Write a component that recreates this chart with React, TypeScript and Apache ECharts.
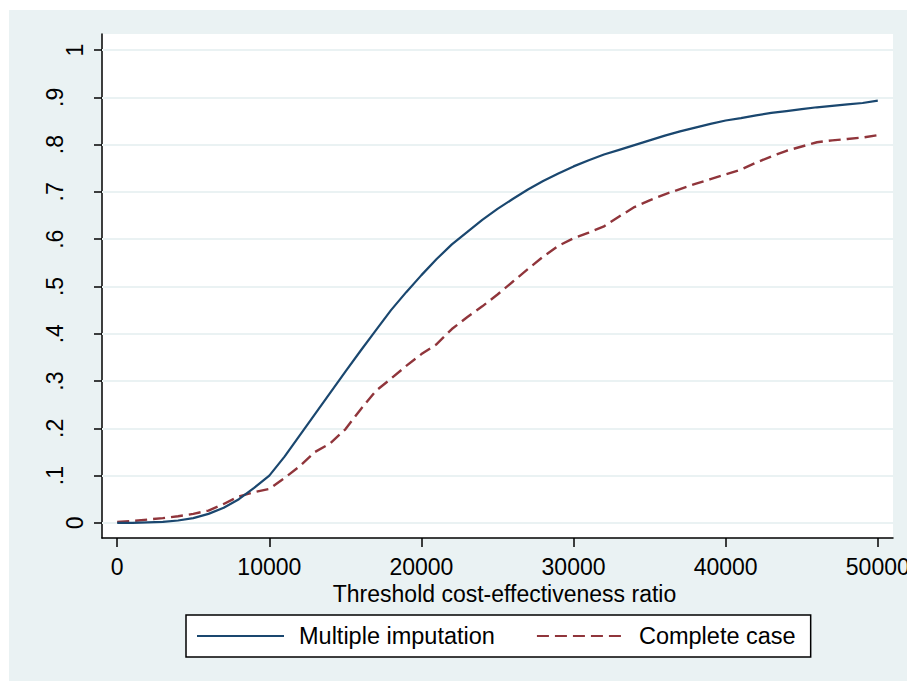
import React, { useEffect, useRef } from "react";
import * as echarts from "echarts";

const thresholds = [
  0, 1000, 2000, 3000, 4000, 5000, 6000, 7000, 8000, 9000,
  10000, 11000, 12000, 13000, 14000, 15000, 16000, 17000, 18000, 19000,
  20000, 21000, 22000, 23000, 24000, 25000, 26000, 27000, 28000, 29000,
  30000, 31000, 32000, 33000, 34000, 35000, 36000, 37000, 38000, 39000,
  40000, 41000, 42000, 43000, 44000, 45000, 46000, 47000, 48000, 49000, 50000,
];

const multipleImputation = [
  0, 0, 0.001, 0.002, 0.005, 0.01, 0.019, 0.032, 0.05, 0.074,
  0.1, 0.14, 0.185, 0.23, 0.275, 0.32, 0.364, 0.407, 0.45, 0.488,
  0.524, 0.558, 0.589, 0.615, 0.641, 0.664, 0.685, 0.705, 0.723, 0.739,
  0.754, 0.767, 0.779, 0.789, 0.799, 0.809, 0.819, 0.828, 0.836, 0.844,
  0.851, 0.856, 0.862, 0.867, 0.871, 0.875, 0.879, 0.882, 0.885, 0.888, 0.893,
];

const completeCase = [
  0.002, 0.004, 0.007, 0.01, 0.014, 0.019, 0.026, 0.04, 0.056, 0.065,
  0.072, 0.095, 0.12, 0.15, 0.168, 0.198, 0.24, 0.279, 0.305, 0.332,
  0.357, 0.378, 0.41, 0.435, 0.458, 0.483, 0.51, 0.537, 0.563, 0.586,
  0.602, 0.614, 0.627, 0.648, 0.668, 0.682, 0.695, 0.706, 0.717, 0.727,
  0.737, 0.747, 0.762, 0.775, 0.787, 0.796, 0.805, 0.809, 0.812, 0.815, 0.82,
];

const xTicks = [0, 10000, 20000, 30000, 40000, 50000];
const yTicks = [0, 0.1, 0.2, 0.3, 0.4, 0.5, 0.6, 0.7, 0.8, 0.9, 1];

const seriesNames = ["Multiple imputation", "Complete case"];
const xTitle = "Threshold cost-effectiveness ratio";

const FONT = "'Liberation Sans', Arial, Helvetica, sans-serif";
const BLUE = "#1a476f";
const RED = "#90353b";
const PANEL = "#eaf2f3";

export default function App() {
  const ref = useRef<HTMLDivElement>(null);

  useEffect(() => {
    if (!ref.current) return;
    const chart = echarts.init(ref.current, undefined, { renderer: "svg" });

    const pairs = (ys: number[]) => thresholds.map((x, i) => [x, ys[i]]);

    chart.setOption({
      animation: false,
      backgroundColor: PANEL,
      textStyle: { fontFamily: FONT, color: "#000" },
      grid: {
        left: 93,
        top: 24,
        right: 14,
        bottom: 143,
        show: true,
        backgroundColor: "#ffffff",
        borderWidth: 0,
        containLabel: false,
        outerBoundsMode: "none",
      },
      legend: {
        data: seriesNames,
        left: 177,
        top: 605,
        orient: "horizontal",
        itemWidth: 87,
        itemHeight: 14,
        itemGap: 41,
        padding: [8, 15, 8, 10],
        backgroundColor: "#ffffff",
        borderColor: "#000000",
        borderWidth: 1.5,
        borderRadius: 0,
        itemStyle: { opacity: 0, color: "rgba(0,0,0,0)", borderWidth: 0 },
        textStyle: {
          fontFamily: FONT,
          fontSize: 23.5,
          color: "#000",
          lineHeight: 26,
          padding: [0, 0, 0, 10],
        },
      },
      xAxis: {
        type: "value",
        min: -1000,
        max: 51000,
        name: xTitle,
        nameLocation: "middle",
        nameGap: 40,
        nameTextStyle: {
          fontFamily: FONT,
          fontSize: 23,
          color: "#000",
          padding: [0, 0, 0, 14],
        },
        axisLine: { show: true, onZero: false, lineStyle: { color: "#000", width: 1.5 } },
        axisTick: {
          show: true,
          length: 9,
          customValues: xTicks,
          lineStyle: { color: "#000", width: 1.5 },
        },
        axisLabel: {
          customValues: xTicks,
          margin: 17,
          fontFamily: FONT,
          fontSize: 23,
          color: "#000",
          formatter: (v: number) => String(v),
        },
        splitLine: { show: false },
      },
      yAxis: {
        type: "value",
        min: -0.032,
        max: 1.034,
        axisLine: { show: true, onZero: false, lineStyle: { color: "#000", width: 1.5 } },
        axisTick: {
          show: true,
          length: 8,
          customValues: yTicks,
          lineStyle: { color: "#000", width: 1.5 },
        },
        axisLabel: {
          customValues: yTicks,
          rotate: 90,
          margin: 16,
          fontFamily: FONT,
          fontSize: 23,
          color: "#000",
          formatter: (v: number) => {
            if (Math.abs(v) < 1e-9) return "{i|0}";
            if (Math.abs(v - 1) < 1e-9) return "{i|1}";
            return "{d|." + Math.round(v * 10) + "}";
          },
          rich: {
            i: { fontFamily: FONT, fontSize: 23, color: "#000" },
            d: { fontFamily: FONT, fontSize: 23, color: "#000", padding: [0, 0, 20, 0] },
          },
        },
        splitLine: { show: false },
      },
      series: [
        {
          name: "grid",
          type: "line",
          data: [],
          z: 1,
          silent: true,
          markLine: {
            z: 1,
            silent: true,
            symbol: ["none", "none"],
            label: { show: false },
            lineStyle: { color: PANEL, width: 2, type: "solid" },
            emphasis: { disabled: true },
            data: yTicks.map((v) => ({ yAxis: v })),
            animation: false,
          },
        },
        {
          name: seriesNames[0],
          type: "line",
          data: pairs(multipleImputation),
          showSymbol: false,
          symbol: "none",
          z: 4,
          lineStyle: { color: BLUE, width: 2.2 },
          itemStyle: { color: BLUE },
        },
        {
          name: seriesNames[1],
          type: "line",
          data: pairs(completeCase),
          showSymbol: false,
          symbol: "none",
          z: 3,
          lineStyle: { color: RED, width: 2.4, type: [12, 6] },
          itemStyle: { color: RED },
        },
      ],
    });

    return () => chart.dispose();
  }, []);

  return (
    <div
      style={{
        position: "absolute",
        left: 0,
        top: 0,
        width: 907,
        height: 682,
        background: "#ffffff",
      }}
    >
      <div
        ref={ref}
        style={{ position: "absolute", left: 9, top: 10, width: 898, height: 671 }}
      />
    </div>
  );
}
